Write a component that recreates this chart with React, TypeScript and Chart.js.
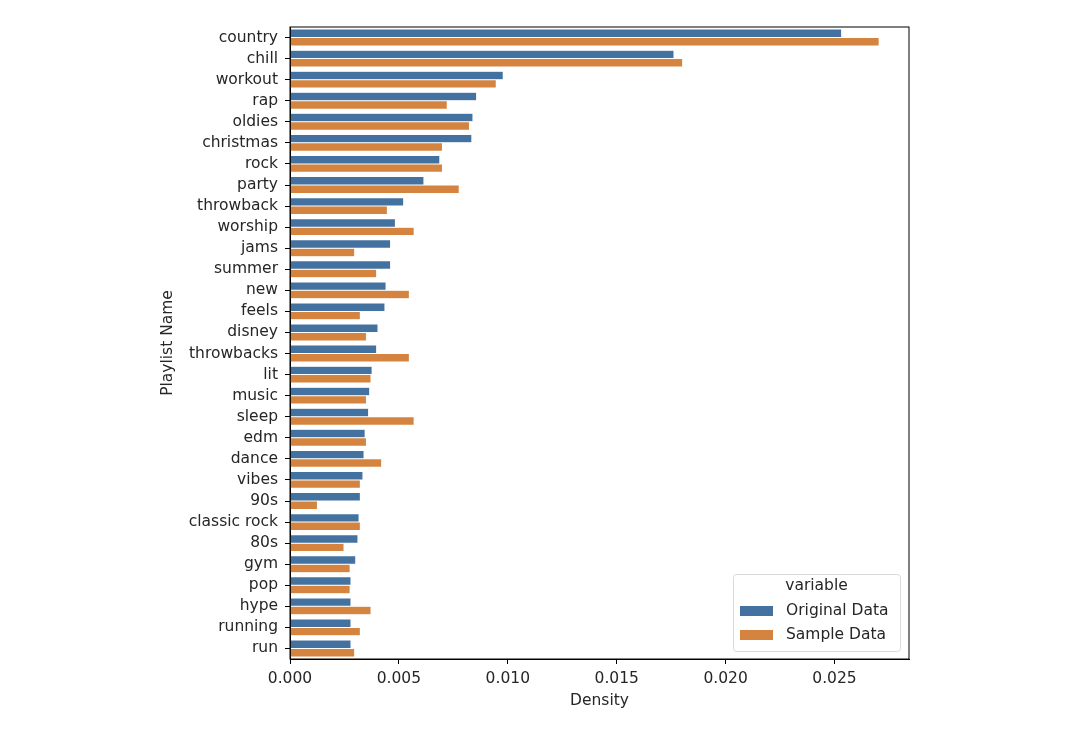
import React, { useEffect, useRef } from 'react';
import { Chart, registerables } from 'chart.js';

Chart.register(...registerables);

const playlists = [
  'country', 'chill', 'workout', 'rap', 'oldies', 'christmas', 'rock', 'party',
  'throwback', 'worship', 'jams', 'summer', 'new', 'feels', 'disney', 'throwbacks',
  'lit', 'music', 'sleep', 'edm', 'dance', 'vibes', '90s', 'classic rock', '80s',
  'gym', 'pop', 'hype', 'running', 'run',
];

const originalData = [
  0.02533, 0.01763, 0.00979, 0.00857, 0.0084, 0.00835, 0.00688, 0.00615,
  0.00522, 0.00484, 0.00462, 0.00462, 0.00441, 0.00436, 0.00404, 0.00398,
  0.00377, 0.00366, 0.00361, 0.00345, 0.0034, 0.00335, 0.00323, 0.00317,
  0.00312, 0.00302, 0.0028, 0.0028, 0.0028, 0.0028,
];

const sampleData = [
  0.02705, 0.01803, 0.00947, 0.00722, 0.00824, 0.007, 0.007, 0.00777,
  0.00447, 0.0057, 0.00297, 0.00398, 0.00548, 0.00323, 0.00351, 0.00548,
  0.00372, 0.00351, 0.0057, 0.00351, 0.00421, 0.00323, 0.00126, 0.00323,
  0.00248, 0.00276, 0.00276, 0.00372, 0.00323, 0.00297,
];

const xTicks = [0, 0.005, 0.01, 0.015, 0.02, 0.025];

const BLUE = '#4472a0';
const ORANGE = '#d5843f';
const TEXT = '#262626';
const FONT = '"DejaVu Sans", sans-serif';
const SIZE = 15.5;

const framePlugin = {
  id: 'frame',
  afterDraw(chart: Chart) {
    const { ctx, chartArea } = chart;
    ctx.save();
    ctx.strokeStyle = '#000';
    ctx.lineWidth = 1;
    ctx.strokeRect(chartArea.left, chartArea.top, chartArea.right - chartArea.left, chartArea.bottom - chartArea.top);
    ctx.restore();
  },
};

const legendPlugin = {
  id: 'innerLegend',
  afterDraw(chart: Chart) {
    const ctx = chart.ctx;
    const x = 733, y = 574, w = 167, h = 77;
    ctx.save();
    ctx.fillStyle = 'rgba(255,255,255,0.8)';
    ctx.strokeStyle = '#d9d9d9';
    ctx.lineWidth = 1;
    ctx.beginPath();
    ctx.roundRect(x + 0.5, y + 0.5, w, h, 3);
    ctx.fill();
    ctx.stroke();
    ctx.fillStyle = TEXT;
    ctx.font = `${SIZE}px ${FONT}`;
    ctx.textAlign = 'center';
    ctx.textBaseline = 'middle';
    ctx.fillText('variable', x + w / 2, y + 12);
    ctx.textAlign = 'left';
    chart.data.datasets.forEach((ds, i) => {
      const ry = y + 37 + i * 24;
      ctx.fillStyle = ds.backgroundColor as string;
      ctx.fillRect(x + 7, ry - 5, 33, 10);
      ctx.fillStyle = TEXT;
      ctx.fillText(ds.label as string, x + 53, ry);
    });
    ctx.restore();
  },
};

const App = () => {
  const canvasRef = useRef<HTMLCanvasElement>(null);

  useEffect(() => {
    let chart: Chart<'bar', number[], string> | null = null;
    if (canvasRef.current) {
      chart = new Chart(canvasRef.current, {
        type: 'bar',
        data: {
          labels: playlists,
          datasets: [
            {
              label: 'Original Data',
              data: originalData,
              backgroundColor: BLUE,
              borderColor: 'rgba(255,255,255,0.6)',
              borderWidth: 0.5,
              categoryPercentage: 0.8,
              barPercentage: 1.0,
            },
            {
              label: 'Sample Data',
              data: sampleData,
              backgroundColor: ORANGE,
              borderColor: 'rgba(255,255,255,0.6)',
              borderWidth: 0.5,
              categoryPercentage: 0.8,
              barPercentage: 1.0,
            },
          ],
        },
        options: {
          indexAxis: 'y',
          animation: false,
          responsive: true,
          maintainAspectRatio: false,
          layout: { padding: { left: 155, top: 27, right: 167, bottom: 16 } },
          plugins: {
            legend: { display: false },
            tooltip: { enabled: false },
          },
          scales: {
            x: {
              type: 'linear',
              min: 0,
              max: 0.02842,
              afterFit: (scale) => { scale.height = 55; },
              afterBuildTicks: (scale) => { scale.ticks = xTicks.map((v) => ({ value: v })); },
              ticks: {
                callback: (v) => Number(v).toFixed(3),
                color: TEXT,
                font: { family: FONT, size: SIZE },
                padding: 6,
                maxRotation: 0,
              },
              grid: { display: true, drawOnChartArea: false, drawTicks: true, tickLength: 5, color: '#000' },
              border: { display: true, color: '#000', width: 1 },
              title: {
                display: true,
                text: 'Density',
                color: TEXT,
                font: { family: FONT, size: SIZE },
                padding: { top: 4, bottom: 4 },
              },
            },
            y: {
              type: 'category',
              afterFit: (scale) => { scale.width = 135; },
              ticks: {
                color: TEXT,
                font: { family: FONT, size: SIZE },
                padding: 7,
                autoSkip: false,
              },
              grid: { display: true, drawOnChartArea: false, drawTicks: true, tickLength: 5, color: '#000', offset: false },
              border: { display: true, color: '#000', width: 1 },
              title: {
                display: true,
                text: 'Playlist Name',
                color: TEXT,
                font: { family: FONT, size: SIZE },
                padding: { top: 4, bottom: 4 },
              },
            },
          },
        },
        plugins: [framePlugin, legendPlugin],
      });
    }
    return () => {
      if (chart) chart.destroy();
    };
  }, []);

  return (
    <div style={{ position: 'absolute', left: 0, top: 0, width: 1076, height: 730, background: '#fff' }}>
      <canvas ref={canvasRef}></canvas>
    </div>
  );
};

export default App;
